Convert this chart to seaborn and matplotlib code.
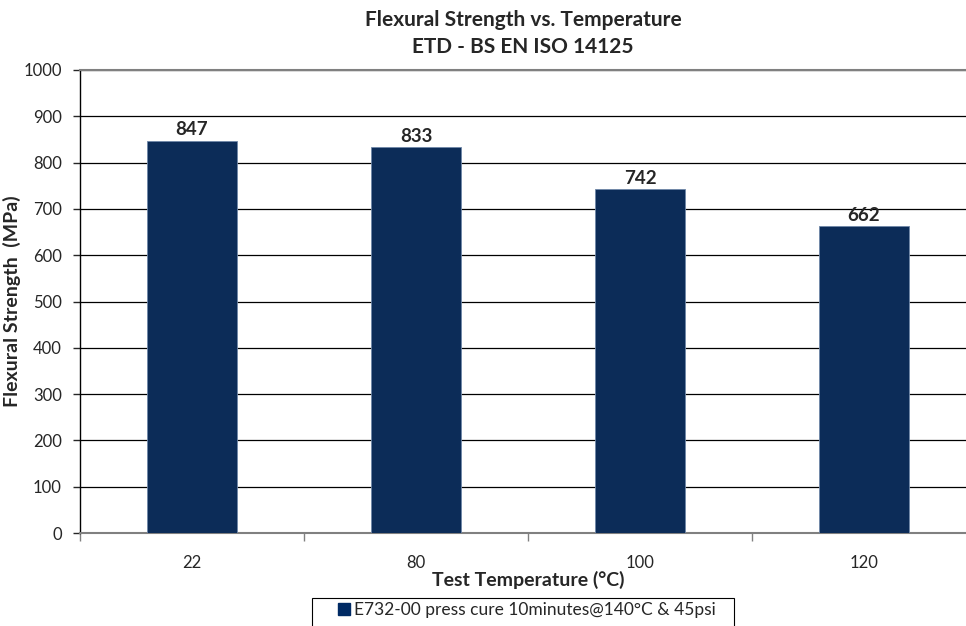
import pandas as pd
import numpy as np
import seaborn as sns
import matplotlib.pyplot as plt
from matplotlib.patches import Patch, Rectangle

sns.set_style('white')
plt.rcParams['font.family'] = ['Lato', 'DejaVu Sans']

temps = ['22', '80', '100', '120']
strength = [847, 833, 742, 662]
series_name = 'E732-00 press cure 10minutes@140°C & 45psi'
bar_color = '#002a64'

df = pd.DataFrame({'Temp': temps, 'Strength': strength})

W, H = 966, 626
fig = plt.figure(figsize=(W / 100, H / 100), dpi=100)
ax = fig.add_axes([80 / W, 93 / H, 896 / W, 463 / H])

sns.barplot(data=df, x='Temp', y='Strength', color=bar_color, width=0.4,
            edgecolor='#6f87a8', linewidth=0.6, ax=ax, zorder=3)

ax.set_ylim(0, 1000)
ax.set_yticks(range(0, 1001, 100))
ax.set_xlim(-0.5, 3.5)
ax.yaxis.grid(True, color='black', linewidth=0.9, zorder=0)
ax.set_axisbelow(True)

ax.spines['right'].set_visible(False)
ax.spines['top'].set_color('#808080')
ax.spines['top'].set_linewidth(1.5)
ax.spines['left'].set_color('black')
ax.spines['left'].set_linewidth(1.0)
ax.spines['bottom'].set_color('#808080')
ax.spines['bottom'].set_linewidth(1.5)

ax.tick_params(axis='y', left=True, length=5, width=1, labelsize=12, pad=8)
ax.tick_params(axis='x', bottom=False, labelsize=12, pad=12)
# separators between categories
ax.set_xticks([-0.5, 0.5, 1.5, 2.5], minor=True)
ax.tick_params(axis='x', which='minor', bottom=True, length=6, width=1, color='#808080')

for i, v in enumerate(strength):
    ax.text(i, v + 6, str(v), ha='center', va='bottom', fontsize=13.5, fontweight='bold')

ax.set_xlabel('Test Temperature (°C)', fontsize=14, fontweight='bold', labelpad=0)
ax.set_ylabel('Flexural Strength  (MPa)', fontsize=14, fontweight='bold', labelpad=2)

fig.text(523 / W, 1 - 20 / H, 'Flexural Strength vs. Temperature', ha='center', va='center',
         fontsize=15, fontweight='bold')
fig.text(523 / W, 1 - 47 / H, 'ETD - BS EN ISO 14125', ha='center', va='center',
         fontsize=15, fontweight='bold')

handle = Patch(facecolor=bar_color, edgecolor=bar_color)
leg = fig.legend([handle], [series_name], loc='center', bbox_to_anchor=(527 / W, 1 - 610 / H),
                 frameon=False, fontsize=12.5, handlelength=0.65, handleheight=0.65,
                 handletextpad=0.25, borderpad=0)
# legend box, cut off by the bottom edge as in the original
fig.patches.append(Rectangle((312 / W, 1 - 650 / H), 422 / W, 52 / H, transform=fig.transFigure,
                             fill=False, edgecolor='black', linewidth=0.8))

fig.savefig('out.png', dpi=100)
